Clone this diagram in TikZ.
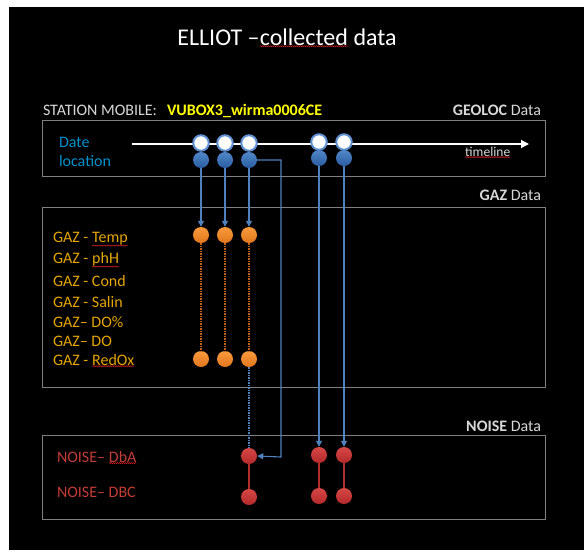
\documentclass[tikz,border=0pt]{standalone}
\usepackage{fontspec}
\setmainfont{Carlito}
\usetikzlibrary{arrows.meta,decorations.pathmorphing}
\definecolor{boxgray}{RGB}{128,128,128}
\definecolor{lblgray}{RGB}{215,215,215}
\definecolor{datecol}{RGB}{0,145,205}
\definecolor{gazcol}{RGB}{228,165,0}
\definecolor{noisecol}{RGB}{195,60,55}
\definecolor{vubox}{RGB}{255,255,0}
\definecolor{lineblue}{RGB}{79,129,189}
\definecolor{rimblue}{RGB}{95,145,210}
\definecolor{blueT}{RGB}{80,135,200}
\definecolor{blueB}{RGB}{42,92,160}
\definecolor{orangeT}{RGB}{248,155,60}
\definecolor{orangeB}{RGB}{226,118,28}
\definecolor{redT}{RGB}{215,72,70}
\definecolor{redB}{RGB}{178,40,40}
\definecolor{orangeline}{RGB}{195,95,25}
\definecolor{redline}{RGB}{175,45,45}
\definecolor{squigcol}{RGB}{220,30,30}
\newcommand\squig[1]{\tikz[baseline=(sq.base)]{\node[inner sep=0pt,outer sep=0pt,anchor=base](sq){#1};\draw[squigcol,line width=0.45pt,decorate,decoration={snake,amplitude=0.55pt,segment length=2pt}]([yshift=-1pt]sq.south west)--([yshift=-1pt]sq.south east);}}
\tikzset{
  txt/.style={inner sep=0pt,outer sep=0pt,font=\fontsize{16}{19}\selectfont},
  boxline/.style={draw=boxgray,line width=1pt},
  whitedot/.style={circle,inner sep=0pt,minimum size=15.5pt,fill=white,draw=rimblue,line width=2pt},
  bluedot/.style={circle,inner sep=0pt,minimum size=16pt,top color=blueT,bottom color=blueB,draw=none},
  orangedot/.style={circle,inner sep=0pt,minimum size=16pt,top color=orangeT,bottom color=orangeB,draw=none},
  reddot/.style={circle,inner sep=0pt,minimum size=16pt,top color=redT,bottom color=redB,draw=none},
  bluearrow/.style={draw=lineblue,line width=1.1pt,-{Triangle[width=6pt,length=6pt]}},
  orangedotted/.style={draw=orangeline,line width=1.2pt,dash pattern=on 1.5pt off 1pt},
  bluedotted/.style={draw=lineblue,line width=1.2pt,dash pattern=on 1.5pt off 1pt},
  redlink/.style={draw=redline,line width=1.1pt}
}
\begin{document}
\begin{tikzpicture}[x=1pt,y=-1pt]
\fill[white] (0,0) rectangle (584,550);
\fill[black] (9,7) rectangle (584,550);
\useasboundingbox (0,0) rectangle (584,550);
% title
\node[txt,anchor=base,text=white,font=\fontsize{24}{28}\selectfont] (title) at (287,45) {ELLIOT –\squig{collected} data};
% headers
\node[txt,anchor=base west,text=lblgray] (station) at (43,115) {STATION MOBILE:};
\node[txt,anchor=base west,text=vubox,font=\fontsize{16}{19}\selectfont\bfseries] (vu) at (167,115) {VUBOX3\_wirma0006CE};
\node[txt,anchor=base east,text=lblgray] (geo) at (541,115) {\textbf{GEOLOC} Data};
\node[txt,anchor=base east,text=lblgray] (gazh) at (541,200) {\textbf{GAZ} Data};
\node[txt,anchor=base east,text=lblgray] (noiseh) at (541,431) {\textbf{NOISE} Data};
% boxes
\draw[boxline] (42,120) rectangle (545,176);
\draw[boxline] (42,207) rectangle (545,387);
\draw[boxline] (42,435) rectangle (545,519);
% geoloc box
\node[txt,anchor=base west,text=datecol] (date) at (59,147) {Date};
\node[txt,anchor=base west,text=datecol] (loc) at (59,166) {location};
\coordinate (tl0) at (132,144);
\coordinate (tl1) at (529,144);
\draw[white,line width=1.2pt,-{Triangle[width=8pt,length=8pt]}] (tl0) -- (tl1);
\node[txt,anchor=base west,text=lblgray,font=\fontsize{13.5}{16}\selectfont] (tline) at (465,156) {\squig{timeline}};
% GAZ labels
\node[txt,anchor=base west,text=gazcol] (g1) at (53,242) {GAZ - \squig{Temp}};
\node[txt,anchor=base west,text=gazcol] (g2) at (53,263) {GAZ - \squig{phH}};
\node[txt,anchor=base west,text=gazcol] (g3) at (53,286) {GAZ - Cond};
\node[txt,anchor=base west,text=gazcol] (g4) at (53,307) {GAZ - Salin};
\node[txt,anchor=base west,text=gazcol] (g5) at (53,327) {GAZ– DO\%};
\node[txt,anchor=base west,text=gazcol] (g6) at (53,346) {GAZ– DO};
\node[txt,anchor=base west,text=gazcol] (g7) at (53,365) {GAZ - \squig{RedOx}};
% NOISE labels
\node[txt,anchor=base west,text=noisecol] (n1) at (57,462) {NOISE– \squig{DbA}};
\node[txt,anchor=base west,text=noisecol] (n2) at (57,497) {NOISE– DBC};
% dots
\node[whitedot] (w1) at (201,143) {};
\node[whitedot] (w2) at (225,143) {};
\node[whitedot] (w3) at (249,143) {};
\node[whitedot] (w4) at (319,142) {};
\node[whitedot] (w5) at (344,142) {};
\node[bluedot] (b1) at (201,160) {};
\node[bluedot] (b2) at (225,160) {};
\node[bluedot] (b3) at (249,160) {};
\node[bluedot] (b4) at (319,158) {};
\node[bluedot] (b5) at (344,158) {};
\node[orangedot] (o1) at (201,235) {};
\node[orangedot] (o2) at (225,235) {};
\node[orangedot] (o3) at (249,235) {};
\node[orangedot] (o1b) at (201,359) {};
\node[orangedot] (o2b) at (225,359) {};
\node[orangedot] (o3b) at (249,359) {};
\node[reddot] (r1) at (249,456) {};
\node[reddot] (r4) at (319,455) {};
\node[reddot] (r5) at (344,455) {};
\node[reddot] (r1b) at (249,497) {};
\node[reddot] (r4b) at (319,496) {};
\node[reddot] (r5b) at (344,496) {};
% connectors
\draw[bluearrow] (b1) -- (o1);
\draw[bluearrow] (b2) -- (o2);
\draw[bluearrow] (b3) -- (o3);
\coordinate (k) at (281,457);
\draw[bluearrow] (b3.east) -| (k) -- (r1.east);
\draw[bluearrow] (b4) -- (r4);
\draw[bluearrow] (b5) -- (r5);
\draw[orangedotted] (o1) -- (o1b);
\draw[orangedotted] (o2) -- (o2b);
\draw[orangedotted] (o3) -- (o3b);
\draw[bluedotted] (o3b) -- (r1);
\draw[redlink] (r1) -- (r1b);
\draw[redlink] (r4) -- (r4b);
\draw[redlink] (r5) -- (r5b);
\end{tikzpicture}
\end{document}
